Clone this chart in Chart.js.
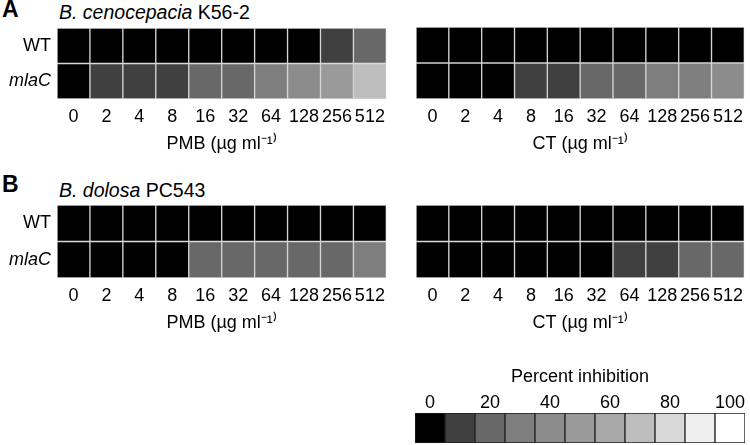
<!DOCTYPE html>
<html>
<head>
<meta charset="utf-8">
<script src="https://cdn.jsdelivr.net/npm/chart.js@4.4.0/dist/chart.umd.min.js"></script>
<style>
body{margin:0;background:#fff;width:750px;height:445px;position:relative;overflow:hidden;font-family:'Liberation Sans',Arial,sans-serif;}
.box{position:absolute}
.lbl{position:absolute;font-size:19.5px;color:#000;white-space:nowrap;line-height:22px}
.panel{font-weight:bold;font-size:23px}
</style>
</head>
<body>
<div class="lbl panel" style="left:2px;top:-2px">A</div>
<div class="lbl" style="left:59px;top:1px"><i>B. cenocepacia</i> K56-2</div>
<div class="lbl panel" style="left:2px;top:173px">B</div>
<div class="lbl" style="left:59px;top:179px"><i>B. dolosa</i> PC543</div>

<div class="box" style="left:0;top:0"><canvas id="a_pmb" width="392" height="158"></canvas></div>
<div class="box" style="left:400px;top:0"><canvas id="a_ct" width="350" height="158"></canvas></div>
<div class="box" style="left:0;top:175px"><canvas id="b_pmb" width="392" height="162"></canvas></div>
<div class="box" style="left:400px;top:175px"><canvas id="b_ct" width="350" height="162"></canvas></div>
<div class="box" style="left:400px;top:362px"><canvas id="scale" width="350" height="83"></canvas></div>

<script>
Chart.defaults.font.family = "'Liberation Sans', Arial, sans-serif"
Chart.defaults.color = '#000'

// concentrations (µg/ml) and strains
const concs = ['0','2','4','8','16','32','64','128','256','512']
const strains = ['WT','mlaC']

// percent inhibition
const k56_pmb_wt  = [0,0,0,0,0,0,0,0,10,20]
const k56_pmb_mla = [0,10,10,10,20,20,30,40,50,70]
const k56_ct_wt   = [0,0,0,0,0,0,0,0,0,0]
const k56_ct_mla  = [0,0,0,10,10,20,20,30,30,40]
const pc_pmb_wt   = [0,0,0,0,0,0,0,0,0,0]
const pc_pmb_mla  = [0,0,0,0,20,20,20,20,20,30]
const pc_ct_wt    = [0,0,0,0,0,0,0,0,0,0]
const pc_ct_mla   = [0,0,0,0,0,0,10,10,20,20]

const legend_steps = [0,10,20,30,40,50,60,70,80,90,100]

const shades = ['#000000','#404040','#686868','#7e7e7e','#8c8c8c','#9a9a9a','#a8a8a8','#bebebe','#d8d8d8','#efefef','#ffffff']
function shade(v){ return shades[Math.round(v/10)] }

function make_heatmap(id, wt, mla, axis_title, show_rows, pad){
    const yScale = {
        stacked: true,
        min: 0,
        max: 2,
        display: show_rows,
        grid: {display: false, drawTicks: false},
        border: {display: false},
        afterBuildTicks: s => { s.ticks = [{value: 0.5}, {value: 1.5}] },
        ticks: {
            padding: 6,
            color: '#000',
            callback: v => v > 1 ? strains[0] : strains[1],
            font: c => ({size: 18, style: (c.tick && c.tick.value < 1) ? 'italic' : 'normal'})
        }
    }
    if(show_rows) yScale.afterFit = s => { s.width = 57 }

    return new Chart(document.getElementById(id), {
        type: 'bar',
        data: {
            labels: concs,
            datasets: [{
                label: strains[1],
                data: mla.map(() => 1),
                backgroundColor: mla.map(shade),
            },{
                label: strains[0],
                data: wt.map(() => 1),
                backgroundColor: wt.map(shade),
            }]
        },
        options: {
            responsive: false,
            animation: false,
            layout: {padding: pad},
            datasets: {
                bar: {
                    barPercentage: 1,
                    categoryPercentage: 1,
                    borderWidth: 1,
                    borderColor: '#d2d2d2',
                    borderSkipped: false
                }
            },
            scales: {
                x: {
                    stacked: true,
                    grid: {display: false, drawTicks: false},
                    border: {display: false},
                    ticks: {padding: 7, maxRotation: 0, autoSkip: false, color: '#000', font: {size: 18}},
                    title: {display: true, text: axis_title, color: '#000', font: {size: 18}, padding: {top: 4, bottom: 3}},
                    afterFit: s => { s.height = 59 }
                },
                y: yScale
            },
            plugins: {
                legend: {display: false},
                tooltip: {enabled: false}
            }
        }
    })
}

make_heatmap('a_pmb', k56_pmb_wt, k56_pmb_mla, 'PMB (µg ml⁻¹⁾', true, {top: 28, right: 2, left: 0, bottom: 0})
make_heatmap('a_ct', k56_ct_wt, k56_ct_mla, 'CT (µg ml⁻¹⁾', false, {top: 27, right: 1, left: 16, bottom: 0})
make_heatmap('b_pmb', pc_pmb_wt, pc_pmb_mla, 'PMB (µg ml⁻¹⁾', true, {top: 30, right: 2, left: 0, bottom: 0})
make_heatmap('b_ct', pc_ct_wt, pc_ct_mla, 'CT (µg ml⁻¹⁾', false, {top: 30, right: 1, left: 16, bottom: 0})

// colour key
new Chart(document.getElementById('scale'), {
    type: 'bar',
    data: {
        labels: legend_steps.map(String),
        datasets: [{
            label: 'Percent inhibition',
            data: legend_steps.map(() => 1),
            backgroundColor: legend_steps.map(shade),
            borderColor: '#1e1e1e',
            borderWidth: 1,
            borderSkipped: false,
            barPercentage: 1,
            categoryPercentage: 1
        }]
    },
    options: {
        responsive: false,
        animation: false,
        layout: {padding: {top: 0, left: 15, right: 5, bottom: 2}},
        scales: {
            x: {
                position: 'top',
                grid: {display: false, drawTicks: false},
                border: {display: false},
                ticks: {
                    padding: 1,
                    maxRotation: 0,
                    autoSkip: false,
                    color: '#000',
                    font: {size: 18, lineHeight: 1.0},
                    callback: (v, i) => i % 2 == 0 ? legend_steps[i] : ''
                },
                title: {display: true, text: 'Percent inhibition', color: '#000', font: {size: 18}, padding: {top: 4, bottom: 4}},
                afterFit: s => { s.height = 51 }
            },
            y: {display: false, min: 0, max: 1}
        },
        plugins: {
            legend: {display: false},
            tooltip: {enabled: false}
        }
    }
})
</script>
</body>
</html>
